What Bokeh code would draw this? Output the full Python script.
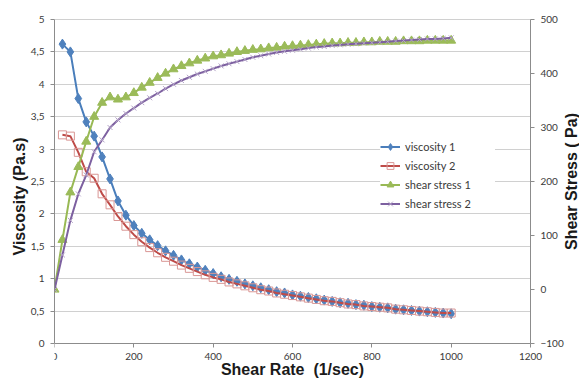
import math

from bokeh.plotting import figure
from bokeh.models import (Range1d, LinearAxis, FixedTicker, Legend, LegendItem,
                          Label, BoxAnnotation)
from bokeh.embed import file_html
from bokeh.resources import INLINE

# Shear rate (1/sec)
shear_rate = [0, 20, 40, 60, 80, 100, 120, 140, 160, 180, 200, 220, 240, 260, 280,
              300, 320, 340, 360, 380, 400, 420, 440, 460, 480, 500, 520, 540, 560,
              580, 600, 620, 640, 660, 680, 700, 720, 740, 760, 780, 800, 820, 840,
              860, 880, 900, 920, 940, 960, 980, 1000]

# Viscosity (Pa.s), measured from 20 1/sec upward
viscosity_1 = [4.62, 4.50, 3.78, 3.42, 3.20, 2.88, 2.54, 2.20, 1.98, 1.82, 1.70,
               1.60, 1.51, 1.43, 1.36, 1.29, 1.23, 1.18, 1.13, 1.08, 1.03, 0.99,
               0.96, 0.92, 0.89, 0.86, 0.83, 0.80, 0.78, 0.75, 0.73, 0.71, 0.69,
               0.67, 0.65, 0.63, 0.62, 0.60, 0.59, 0.57, 0.56, 0.55, 0.53, 0.52,
               0.51, 0.50, 0.49, 0.48, 0.47, 0.46]
viscosity_2 = [3.22, 3.20, 2.95, 2.65, 2.55, 2.31, 2.14, 1.96, 1.81, 1.68, 1.57,
               1.48, 1.40, 1.33, 1.27, 1.21, 1.16, 1.11, 1.06, 1.02, 0.99, 0.95,
               0.92, 0.89, 0.86, 0.83, 0.81, 0.78, 0.76, 0.74, 0.72, 0.70, 0.68,
               0.66, 0.65, 0.63, 0.61, 0.60, 0.58, 0.57, 0.56, 0.55, 0.53, 0.52,
               0.51, 0.50, 0.49, 0.48, 0.47, 0.47]

# Shear stress (Pa)
shear_stress_1 = [0, 92, 180, 227, 274, 320, 346, 356, 352, 356, 364, 374, 383, 392,
                  400, 408, 414, 419, 424, 428, 432, 434, 437, 440, 442, 444, 445,
                  447, 448, 450, 451, 452, 453, 454, 455, 456, 456, 457, 457, 458,
                  458, 459, 459, 459, 460, 460, 460, 461, 461, 461, 461]
shear_stress_2 = [0, 64, 128, 177, 212, 255, 277, 300, 314, 326, 336, 346, 355, 363,
                  372, 380, 387, 393, 399, 404, 409, 414, 418, 422, 426, 430, 433,
                  436, 439, 441, 443, 445, 447, 449, 450, 452, 453, 454, 455, 456,
                  457, 458, 459, 460, 461, 462, 463, 464, 464, 465, 466]

x_ticks = [0, 200, 400, 600, 800, 1000, 1200]
visc_ticks = [0, 0.5, 1, 1.5, 2, 2.5, 3, 3.5, 4, 4.5, 5]
visc_tick_labels = ["0", "0,5", "1", "1,5", "2", "2,5", "3", "3,5", "4", "4,5", "5"]
stress_ticks = [-100, 0, 100, 200, 300, 400, 500]

x_title = "Shear Rate \u00a0(1/sec)"
visc_title = "Viscosity (Pa.s)"
stress_title = "Shear Stress (\u00a0Pa)"

TICK_FONT = "Lato"
TITLE_FONT = "Liberation Sans"
AXIS_GREY = "#8c8c8c"
TEXT = "#3a3a3a"
TITLE_COLOR = "#1a1a1a"

# Page geometry (pixels). The plotted area spans x 54..530 and y 19..343; the
# drawing frame runs past it (right and bottom edges of the page, a little
# above the top) so the pinned axes, their labels and titles sit inside it.
W, H = 579, 380
PLOT_LEFT, PLOT_RIGHT = 54, 530
PLOT_TOP, PLOT_BOTTOM = 19, 343
FRAME_TOP = 12
X_MAX = 1200
VISC_MIN, VISC_MAX = 0, 5
STRESS_MIN, STRESS_MAX = -100, 500

px_to_x = X_MAX / (PLOT_RIGHT - PLOT_LEFT)
px_to_visc = (VISC_MAX - VISC_MIN) / (PLOT_BOTTOM - PLOT_TOP)
px_to_stress = (STRESS_MAX - STRESS_MIN) / (PLOT_BOTTOM - PLOT_TOP)

x_range = Range1d(0, (W - PLOT_LEFT) * px_to_x)
y_range = Range1d(VISC_MIN - (H - PLOT_BOTTOM) * px_to_visc,
                  VISC_MAX + (PLOT_TOP - FRAME_TOP) * px_to_visc)
stress_range = Range1d(STRESS_MIN - (H - PLOT_BOTTOM) * px_to_stress,
                       STRESS_MAX + (PLOT_TOP - FRAME_TOP) * px_to_stress)

p = figure(width=W, height=H, output_backend="svg", toolbar_location=None,
           x_range=x_range, y_range=y_range)
p.extra_y_ranges = {"stress": stress_range}
p.min_border_left = PLOT_LEFT
p.min_border_right = 0
p.min_border_top = FRAME_TOP
p.min_border_bottom = 0
p.outline_line_color = None
p.background_fill_color = "white"
p.border_fill_color = "white"

# grid: horizontal lines only
p.xgrid.grid_line_color = None
p.ygrid.grid_line_color = "#d0d0d0"
p.ygrid.grid_line_width = 1
p.ygrid.ticker = FixedTicker(ticks=visc_ticks)

# blank out the strip right of the plotted area (grid lines stop at the axis)
p.add_layout(BoxAnnotation(left=X_MAX, fill_color="white", fill_alpha=1,
                           line_color=None, level="underlay"))


def style_axis(ax):
    ax.axis_line_color = AXIS_GREY
    ax.major_tick_line_color = AXIS_GREY
    ax.major_tick_out = 4
    ax.major_tick_in = 0
    ax.minor_tick_line_color = None
    ax.major_label_text_font = TICK_FONT
    ax.major_label_text_font_size = "10px"
    ax.major_label_text_color = TEXT
    ax.major_label_standoff = 6
    ax.axis_label_text_font = TITLE_FONT
    ax.axis_label_text_font_style = "bold"
    ax.axis_label_text_font_size = "16px"
    ax.axis_label_text_color = TITLE_COLOR


# shear-rate axis pinned at zero viscosity
xa = p.xaxis[0]
xa.ticker = FixedTicker(ticks=x_ticks)
xa.bounds = (0, X_MAX)
xa.fixed_location = VISC_MIN
style_axis(xa)
xa.axis_label = x_title
xa.major_label_standoff = 5
xa.axis_label_standoff = -2

ya = p.yaxis[0]
ya.ticker = FixedTicker(ticks=visc_ticks)
ya.bounds = (VISC_MIN, VISC_MAX)
ya.major_label_overrides = {t: s for t, s in zip(visc_ticks, visc_tick_labels)}
style_axis(ya)
ya.axis_label = visc_title
ya.axis_label_standoff = 0

# secondary axis for shear stress, pinned at the right end of the rate scale
ra = LinearAxis(y_range_name="stress", ticker=FixedTicker(ticks=stress_ticks),
                fixed_location=X_MAX, bounds=(STRESS_MIN, STRESS_MAX))
style_axis(ra)
p.add_layout(ra, "right")

p.add_layout(Label(x=X_MAX + (571 - PLOT_RIGHT) * px_to_x,
                   y=(VISC_MIN + VISC_MAX) / 2,
                   text=stress_title, angle=math.pi / 2,
                   text_font=TITLE_FONT, text_font_style="bold",
                   text_font_size="16px", text_color=TITLE_COLOR,
                   text_align="center", text_baseline="middle"))

visc_rate = shear_rate[1:]

BLUE, RED, GREEN, PURPLE = "#4a7ebb", "#be4b48", "#98b954", "#7d60a0"

l1 = p.line(visc_rate, viscosity_1, line_color=BLUE, line_width=2)
m1 = p.scatter(visc_rate, viscosity_1, marker="diamond", size=10,
               fill_color="#4f81bd", line_color="#4f81bd")

l2 = p.line(visc_rate, viscosity_2, line_color=RED, line_width=2)
m2 = p.scatter(visc_rate, viscosity_2, marker="square", size=8,
               fill_color=None, line_color="#d99694", line_width=1)

l3 = p.line(shear_rate, shear_stress_1, line_color=GREEN, line_width=2,
            y_range_name="stress")
m3 = p.scatter(shear_rate, shear_stress_1, marker="triangle", size=9,
               fill_color="#9bbb59", line_color="#9bbb59", y_range_name="stress")

l4 = p.line(shear_rate, shear_stress_2, line_color=PURPLE, line_width=2,
            y_range_name="stress")
m4 = p.scatter(shear_rate, shear_stress_2, marker="x", size=7,
               line_color="#b3a2c7", line_width=1, y_range_name="stress")

legend = Legend(items=[
    LegendItem(label="viscosity 1", renderers=[l1, m1]),
    LegendItem(label="viscosity 2", renderers=[l2, m2]),
    LegendItem(label="shear stress 1", renderers=[l3, m3]),
    LegendItem(label="shear stress 2", renderers=[l4, m4]),
], location=(326, 131 + (H - PLOT_BOTTOM)))
legend.background_fill_color = "white"
legend.background_fill_alpha = 1
legend.border_line_color = None
legend.padding = 4
legend.spacing = 2
legend.margin = 0
legend.glyph_width = 20
legend.glyph_height = 17
legend.label_height = 17
legend.label_width = 90
legend.label_standoff = 5
legend.label_text_font = TICK_FONT
legend.label_text_font_size = "11px"
legend.label_text_color = TEXT
p.add_layout(legend, "center")

open("out.html", "w").write(file_html(p, INLINE))
